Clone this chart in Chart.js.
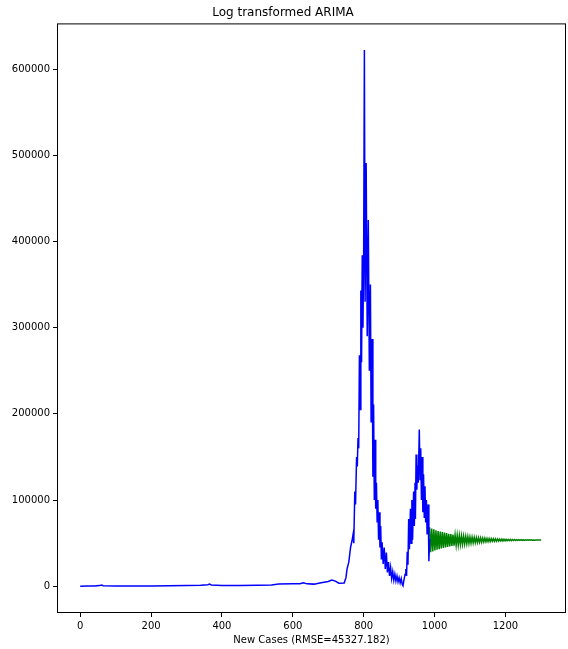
<!DOCTYPE html>
<html>
<head>
<meta charset="utf-8">
<script src="https://cdn.jsdelivr.net/npm/chart.js@4"></script>
<style>
  body { margin: 0; background: #fff; }
</style>
</head>
<body>
<canvas id="chart" width="568" height="649"></canvas>
<script>
// observed new cases (blue), day index
const blueDays = [
  0, 20, 40, 55, 60, 65, 100, 150, 200, 250, 300, 340, 360, 365, 370, 400, 450, 500, 540, 560,
  600, 620, 630, 640, 660, 680, 700, 710, 720, 730, 745, 750, 753, 758, 763, 768,
  770, 772, 775, 777, 780, 782, 784, 786, 788, 790, 792, 794, 796, 798, 800, 802, 804, 807,
  810, 813, 816, 819, 821, 824, 826, 828, 830, 832, 834, 836, 838, 840, 842, 844, 846, 848,
  850, 852, 855, 858, 861, 864, 867, 870, 873, 876, 879, 882, 885, 888, 891, 894, 897, 900,
  903, 906, 909, 911, 914, 917, 919, 921, 923, 925, 927, 929, 932, 934, 936, 938, 941, 943,
  945, 946, 948, 950, 952, 954, 957, 959, 961, 963, 965, 967, 969, 971, 973, 975, 977, 979,
  982, 984, 986
];
const blueCases = [
  0, 200, 300, 800, 1500, 600, 300, 200, 300, 600, 800, 1200, 1800, 2500, 1500, 1000, 900, 1200, 1500, 2500,
  2800, 3000, 4000, 2800, 2500, 4000, 5500, 7300, 6000, 3500, 3800, 10000, 20000, 28000, 45000, 55000,
  60000, 50000, 110000, 95000, 150000, 139000, 172000, 160000, 268000, 205000, 343000, 260000, 384000, 300000, 390000, 622000, 330000, 491000,
  290000, 425000, 250000, 350000, 190000, 287000, 127000, 211000, 100000, 170000, 90000, 120000, 75000, 100000, 54000, 86000, 45000, 70000,
  31000, 51000, 26000, 45000, 20000, 39000, 16000, 28000, 12000, 22000, 9000, 17000, 7000, 14000, 6000, 12000, 5000, 10000,
  4000, 9000, 2000, 500, 8000, 14000, 20000, 12000, 40000, 25000, 78000, 43000, 90000, 50000, 100000, 54000, 110000, 70000,
  120000, 78000, 153000, 112000, 140000, 120000, 182000, 124000, 160000, 100000, 150000, 86000, 130000, 80000, 116000, 74000, 100000, 60000,
  95000, 29000, 55000
];

// ARIMA forecast (green), one value every 3 days from day 986
const greenStart = 986;
const greenStep = 3;
const greenCases = [
  68500, 39500, 67000, 40500, 66000, 41500, 65000, 42300, 64200, 43000,
  63500, 43800, 62800, 44500, 62200, 45100, 61600, 45700, 61000, 46200,
  60500, 46700, 60000, 47200, 59600, 47600, 59200, 48000, 58800, 48400,
  58500, 48800, 58100, 49100, 57800, 49400, 57500, 49700, 57200, 50000,
  57000, 50300, 56700, 50500, 56500, 50800, 56300, 51000, 56100, 51200,
  55900, 51400, 55700, 51600, 55500, 51800, 55400, 51900, 55200, 52100,
  55100, 52200, 55000, 52300, 54900, 52400, 54800, 52500, 54700, 52600,
  54600, 52700, 54500, 52800, 54400, 52900, 54300, 53000, 54200, 53100,
  54200, 53100, 54100, 53200, 54100, 53200, 54000, 53300, 54000, 53300,
  53900, 53400, 53900, 53400, 53900, 53400, 53800, 53500, 53800, 53500,
  53700, 53600, 53700, 53600, 53700, 53650
];

const xTicks = [0, 200, 400, 600, 800, 1000, 1200];
const yTicks = [0, 100000, 200000, 300000, 400000, 500000, 600000];

const bluePoints = blueDays.map((d, i) => ({ x: d, y: blueCases[i] }));
const greenPoints = greenCases.map((v, i) => ({ x: greenStart + i * greenStep, y: v }));

const tickFont = { family: "DejaVu Sans", size: 10 };

// matplotlib-like box around the axes
const frame = {
  id: 'frame',
  afterDraw(chart) {
    const { ctx, chartArea: a } = chart;
    ctx.save();
    ctx.strokeStyle = '#000';
    ctx.lineWidth = 1;
    ctx.strokeRect(a.left + 0.5, a.top + 0.5, a.right - a.left - 1, a.bottom - a.top - 1);
    ctx.restore();
  }
};

new Chart(document.getElementById('chart'), {
  type: 'line',
  data: {
    datasets: [
      {
        data: bluePoints,
        borderColor: '#0000ff',
        borderWidth: 1.5,
        pointRadius: 0,
        tension: 0
      },
      {
        data: greenPoints,
        borderColor: '#008000',
        borderWidth: 1.5,
        pointRadius: 0,
        tension: 0
      }
    ]
  },
  options: {
    responsive: false,
    animation: false,
    layout: { padding: { left: 0, right: 2, top: 0, bottom: 0 } },
    plugins: {
      legend: { display: false },
      tooltip: { enabled: false },
      title: {
        display: true,
        text: 'Log transformed ARIMA',
        color: '#000',
        font: { family: "DejaVu Sans", size: 12, weight: 'normal' },
        padding: { top: 6, bottom: 3 }
      }
    },
    scales: {
      x: {
        type: 'linear',
        min: -65.5,
        max: 1371,
        afterBuildTicks: s => { s.ticks = xTicks.map(v => ({ value: v })); },
        afterFit: s => { s.height = 36; },
        border: { display: false },
        grid: { drawOnChartArea: false, tickLength: 4, color: '#000' },
        ticks: { color: '#000', font: tickFont, padding: 3, maxRotation: 0, callback: v => String(v) },
        title: {
          display: true,
          text: 'New Cases (RMSE=45327.182)',
          color: '#000',
          font: tickFont,
          padding: { top: 0, bottom: 3 }
        }
      },
      y: {
        type: 'linear',
        min: -31000,
        max: 653000,
        afterBuildTicks: s => { s.ticks = yTicks.map(v => ({ value: v })); },
        afterFit: s => { s.width = 57; },
        border: { display: false },
        grid: { drawOnChartArea: false, tickLength: 4, color: '#000' },
        ticks: { color: '#000', font: tickFont, padding: 3, callback: v => String(v) }
      }
    }
  },
  plugins: [frame]
});
</script>
</body>
</html>
